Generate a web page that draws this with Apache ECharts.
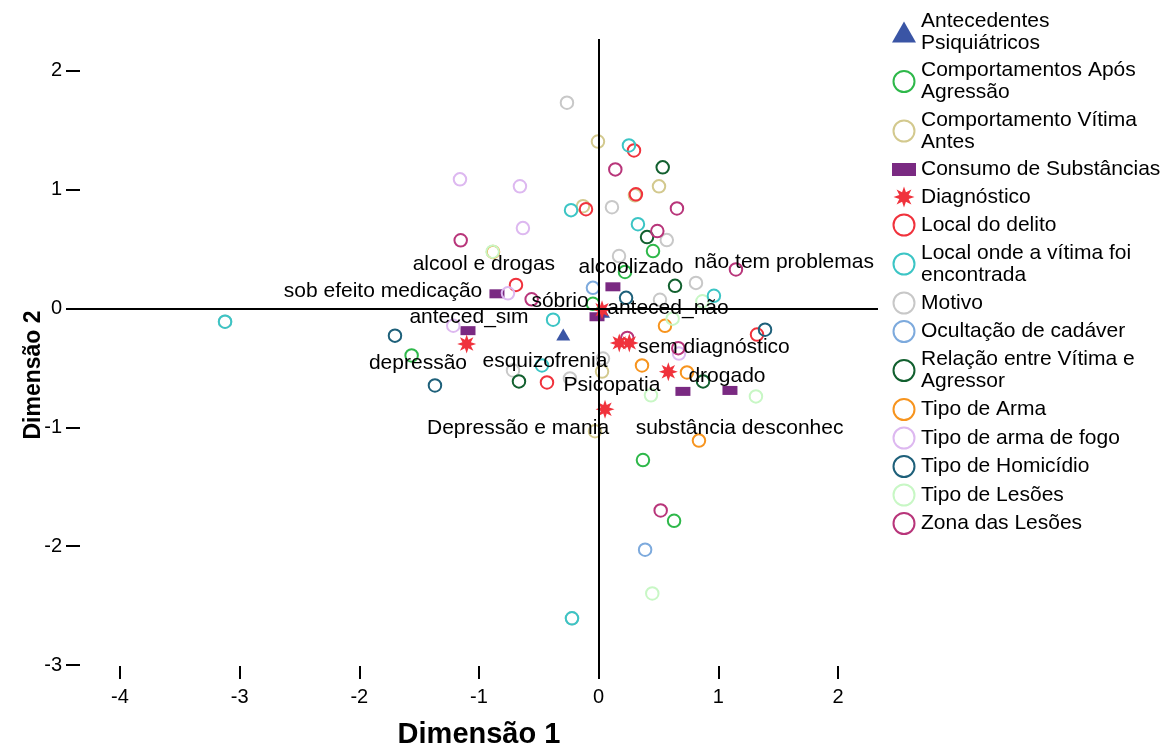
<!DOCTYPE html>
<html>
<head>
<meta charset="utf-8">
<script src="https://cdn.jsdelivr.net/npm/echarts@6/dist/echarts.min.js"></script>
<style>html,body{margin:0;padding:0;background:#fff}#chart{width:1175px;height:754px}</style>
</head>
<body>
<div id="chart"></div>
<script>
// ---- data ----
const xTicks = [-4, -3, -2, -1, 0, 1, 2];
const yTicks = [-3, -2, -1, 0, 1, 2];

const groupNames = [
  'Antecedentes Psiquiátricos',
  'Comportamentos Após Agressão',
  'Comportamento Vítima Antes',
  'Consumo de Substâncias',
  'Diagnóstico',
  'Local do delito',
  'Local onde a vítima foi encontrada',
  'Motivo',
  'Ocultação de cadáver',
  'Relação entre Vítima e Agressor',
  'Tipo de Arma',
  'Tipo de arma de fogo',
  'Tipo de Homicídio',
  'Tipo de Lesões',
  'Zona das Lesões'
];

const antecedentesPsiquiatricos = [[-0.296, -0.219], [0.036, -0.027]];
const comportamentosAposAgressao = [[0.454, 0.484], [0.220, 0.308], [-0.048, 0.040], [-1.563, -0.395], [0.370, -1.275], [0.630, -1.786]];
const comportamentoVitimaAntes = [[-0.006, 1.405], [-0.131, 0.861], [0.504, 1.028], [0.303, 0.953], [0.028, -0.530], [-0.031, -1.032]];
const consumoSubstancias = [[-0.850, 0.124], [0.119, 0.183], [-0.014, -0.069], [-1.092, -0.186], [0.704, -0.697], [1.097, -0.689]];
const diagnostico = [[0.028, -0.010], [-1.103, -0.299], [0.172, -0.289], [0.256, -0.289], [0.582, -0.532], [0.053, -0.848]];
const localDelito = [[0.295, 1.330], [0.311, 0.961], [-0.106, 0.836], [-0.691, 0.199], [-0.432, -0.622], [1.323, -0.219]];
const localEncontrada = [[0.253, 1.372], [-0.231, 0.828], [0.328, 0.710], [0.963, 0.107], [-0.381, -0.094], [-0.474, -0.479], [-3.122, -0.111], [-0.223, -2.606]];
const motivo = [[-0.265, 1.732], [0.111, 0.853], [0.569, 0.576], [0.170, 0.442], [0.813, 0.216], [0.512, 0.074], [-0.716, -0.521], [0.036, -0.421], [-0.240, -0.588], [-3.122, -0.111], [-0.223, -2.606]];
const ocultacaoCadaver = [[-0.048, 0.174], [0.388, -2.029]];
const relacaoVitimaAgressor = [[0.535, 1.188], [0.404, 0.601], [0.638, 0.191], [-0.666, -0.613], [0.872, -0.613]];
const tipoArma = [[-0.883, 0.476], [0.554, -0.145], [0.362, -0.479], [0.738, -0.538], [0.838, -1.111]];
const tipoArmaFogo = [[-1.159, 1.087], [-0.658, 1.029], [-0.633, 0.677], [-0.758, 0.128], [-1.215, -0.144], [0.671, -0.379]];
const tipoHomicidio = [[0.229, 0.090], [-1.702, -0.228], [-1.368, -0.647], [1.390, -0.178]];
const tipoLesoes = [[-0.886, 0.478], [0.867, 0.061], [0.618, -0.085], [0.437, -0.730], [1.314, -0.739], [0.448, -2.397]];
const zonaLesoes = [[0.139, 1.171], [0.654, 0.842], [0.490, 0.652], [-1.153, 0.574], [1.147, 0.329], [-0.560, 0.078], [0.239, -0.247], [0.665, -0.333], [0.518, -1.699]];

const pointLabels = ['alcool e drogas', 'alcoolizado', 'não tem problemas', 'sob efeito medicação', 'sóbrio', 'anteced_não', 'anteced_sim', 'sem diagnóstico', 'depressão', 'esquizofrenia', 'drogado', 'Psicopatia', 'Depressão e mania', 'substância desconhec'];
const labelX = [-0.959, 0.270, 1.549, -1.802, -0.323, 0.579, -1.084, 0.963, -1.510, -0.449, 1.072, 0.111, -0.674, 1.177];
const labelY = [0.375, 0.350, 0.392, 0.143, 0.059, 0.007, -0.072, -0.328, -0.462, -0.442, -0.566, -0.641, -1.007, -1.007];

// ---- styles ----
const FONT = '"Liberation Sans", Arial, Helvetica, sans-serif';
const groupData = [antecedentesPsiquiatricos, comportamentosAposAgressao, comportamentoVitimaAntes, consumoSubstancias, diagnostico, localDelito, localEncontrada, motivo, ocultacaoCadaver, relacaoVitimaAgressor, tipoArma, tipoArmaFogo, tipoHomicidio, tipoLesoes, zonaLesoes];
const groupColors = ['#3A55A5', '#2EB84A', '#D3C98E', '#7A2A82', '#F0323C', '#F0323C', '#3CC5C5', '#C8C8C8', '#7DAADD', '#12602F', '#F7941E', '#DDB8F0', '#1E607A', '#C8F7C5', '#B8357A'];
const legendWrap = {
  'Antecedentes Psiquiátricos': 'Antecedentes\nPsiquiátricos',
  'Comportamentos Após Agressão': 'Comportamentos Após\nAgressão',
  'Comportamento Vítima Antes': 'Comportamento Vítima\nAntes',
  'Local onde a vítima foi encontrada': 'Local onde a vítima foi\nencontrada',
  'Relação entre Vítima e Agressor': 'Relação entre Vítima e\nAgressor'
};

function starPath(n, rOut, rIn) {
  let d = '';
  for (let i = 0; i < 2 * n; i++) {
    const r = i % 2 === 0 ? rOut : rIn;
    const a = Math.PI * i / n - Math.PI / 2;
    d += (i === 0 ? 'M' : 'L') + (50 + r * Math.cos(a)).toFixed(2) + ' ' + (50 + r * Math.sin(a)).toFixed(2);
  }
  return 'path://' + d + 'Z';
}
const STAR = starPath(8, 50, 24);

const series = groupNames.map((name, i) => {
  const s = { name, type: 'scatter', data: groupData[i], z: 2 };
  if (i === 0) {
    s.symbol = 'triangle'; s.symbolSize = [14, 12];
    s.itemStyle = { color: groupColors[i], opacity: 1 };
  } else if (i === 3) {
    s.symbol = 'rect'; s.symbolSize = [15, 9];
    s.itemStyle = { color: groupColors[i], opacity: 1 };
  } else if (i === 4) {
    s.symbol = STAR; s.symbolSize = 19;
    s.itemStyle = { color: groupColors[i], opacity: 1 };
    s.z = 4;
  } else {
    s.symbol = 'circle'; s.symbolSize = 12.5;
    s.itemStyle = { color: 'rgba(0,0,0,0)', borderColor: groupColors[i], borderWidth: 2, opacity: 1 };
    if (i === 6) s.z = 3;
  }
  return s;
});

series[0].markLine = {
  silent: true, symbol: ['none', 'none'], label: { show: false },
  lineStyle: { color: '#000', width: 2, type: 'solid', opacity: 1 },
  data: [{ xAxis: 0 }, { yAxis: 0 }]
};

series.push({
  name: 'rotulos', type: 'scatter', symbol: 'circle', symbolSize: 1, z: 6,
  itemStyle: { color: 'rgba(0,0,0,0)', opacity: 1 },
  data: pointLabels.map((t, i) => [labelX[i], labelY[i], t]),
  label: { show: true, position: 'inside', formatter: p => p.data[2], color: '#000', fontSize: 21, fontFamily: FONT }
});

const legendData = groupNames.map((name, i) => {
  if (i === 3) return { name, icon: 'path://M0 0M24 21M0 4H24V17H0Z' };
  return { name };
});

const chart = echarts.init(document.getElementById('chart'), null, { renderer: 'canvas' });
chart.setOption({
  animation: false,
  backgroundColor: '#fff',
  textStyle: { fontFamily: FONT },
  grid: { left: 80, right: 297, top: 39, bottom: 72, containLabel: false },
  legend: {
    orient: 'vertical', left: 887, top: 5, padding: 5,
    itemWidth: 24, itemHeight: 21, itemGap: 5.5,
    selectedMode: false,
    data: legendData,
    formatter: n => legendWrap[n] || n,
    textStyle: { color: '#000', fontSize: 21, lineHeight: 22, fontFamily: FONT }
  },
  xAxis: {
    type: 'value', min: -4.334, max: 2.334,
    name: 'Dimensão 1', nameLocation: 'middle', nameGap: 41,
    nameTextStyle: { color: '#000', fontSize: 29, fontWeight: 'bold', fontFamily: FONT },
    axisLine: { show: false, onZero: false },
    axisTick: { show: true, inside: true, length: 13, lineStyle: { color: '#000', width: 2 }, customValues: xTicks },
    axisLabel: { color: '#000', fontSize: 20, margin: 8, fontFamily: FONT, customValues: xTicks },
    splitLine: { show: false }
  },
  yAxis: {
    type: 'value', min: -3.117, max: 2.268,
    name: 'Dimensão 2', nameLocation: 'middle', nameGap: 35, nameMoveOverlap: false,
    nameTextStyle: { color: '#000', fontSize: 23, fontWeight: 'bold', fontFamily: FONT, padding: [0, 32, 0, 0] },
    axisLine: { show: false, onZero: false },
    axisTick: { show: true, inside: false, length: 14, lineStyle: { color: '#000', width: 2 }, customValues: yTicks },
    axisLabel: { color: '#000', fontSize: 20, margin: 18, fontFamily: FONT, customValues: yTicks },
    splitLine: { show: false }
  },
  series
});
</script>
</body>
</html>
